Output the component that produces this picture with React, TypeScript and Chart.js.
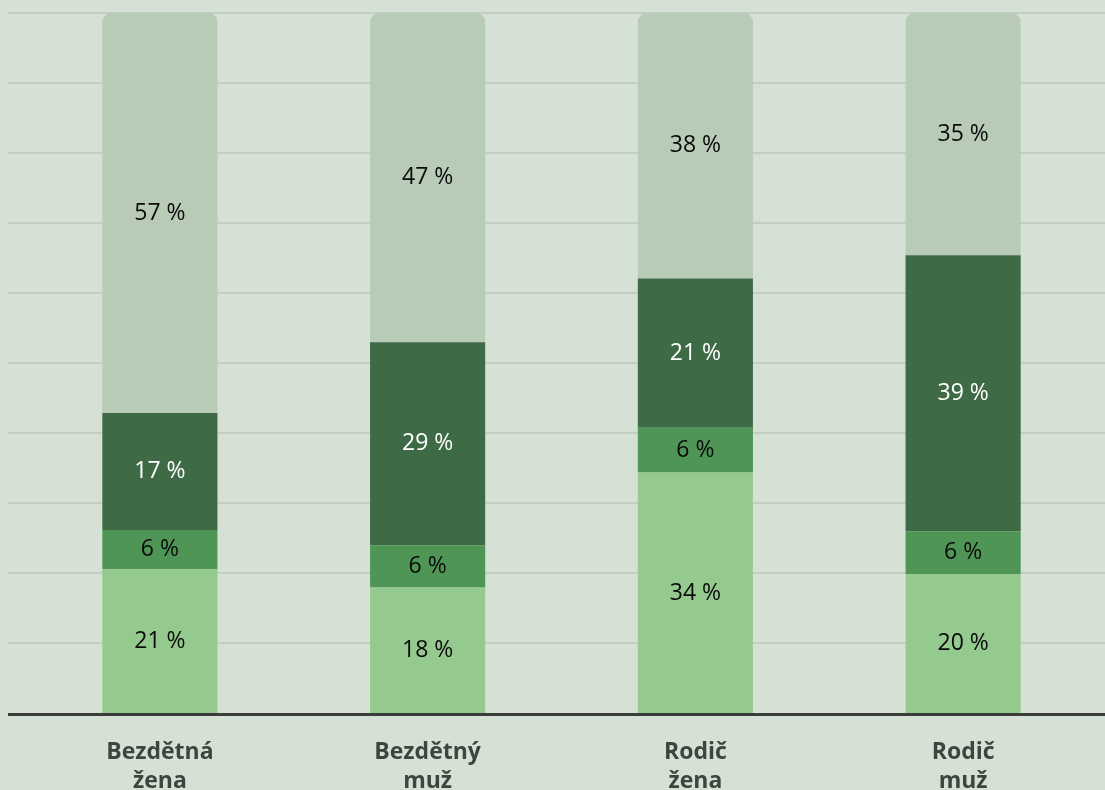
import React, { useEffect, useRef } from "react";
import { Chart, registerables } from "chart.js";

Chart.register(...registerables);

const categories: string[][] = [
  ["Bezdětná", "žena"],
  ["Bezdětný", "muž"],
  ["Rodič", "žena"],
  ["Rodič", "muž"],
];
const seriesLight = [20.6, 18.0, 34.4, 19.9];
const seriesMid = [5.6, 6.0, 6.4, 6.1];
const seriesDark = [16.7, 29.0, 21.3, 39.4];
const seriesTop = [57.1, 47.0, 37.9, 34.6];
const yTicks = [0, 10, 20, 30, 40, 50, 60, 70, 80, 90, 100];

const BG = "#d6e1d5";
const GRID = "#c3cec2";
const AXIS = "#3a3d3a";
const W = 1105;
const H = 832;
const LINE_START = 8;

const labelPlugin = {
  id: "segLabels",
  afterDatasetsDraw(chart: any) {
    const ctx = chart.ctx;
    ctx.save();
    ctx.font = "23px 'Open Sans'";
    ctx.textAlign = "center";
    ctx.textBaseline = "middle";
    chart.data.datasets.forEach((ds: any, di: number) => {
      const meta = chart.getDatasetMeta(di);
      meta.data.forEach((bar: any, i: number) => {
        const v = ds.data[i];
        const props = bar.getProps(["x", "y", "base"], true);
        const cy = (props.y + props.base) / 2;
        ctx.fillStyle = ds.labelColor;
        ctx.fillText(Math.round(v) + " %", props.x, cy);
      });
    });
    ctx.restore();
  },
};

const fullGridPlugin = {
  id: "fullGrid",
  beforeDatasetsDraw(chart: any) {
    const ctx = chart.ctx;
    const y = chart.scales.y;
    ctx.save();
    yTicks.forEach((v) => {
      if (v === 0) return;
      const py = Math.round(y.getPixelForValue(v));
      ctx.strokeStyle = GRID;
      ctx.lineWidth = 2;
      ctx.beginPath();
      ctx.moveTo(LINE_START, py);
      ctx.lineTo(chart.width, py);
      ctx.stroke();
    });
    ctx.restore();
  },
  afterDatasetsDraw(chart: any) {
    const ctx = chart.ctx;
    const y = chart.scales.y;
    const py = Math.round(y.getPixelForValue(0)) + 0.5;
    ctx.save();
    ctx.strokeStyle = AXIS;
    ctx.lineWidth = 3;
    ctx.beginPath();
    ctx.moveTo(LINE_START, py);
    ctx.lineTo(chart.width, py);
    ctx.stroke();
    ctx.restore();
  },
};

export default function App() {
  const ref = useRef<HTMLCanvasElement>(null);
  useEffect(() => {
    document.body.style.background = BG;
    document.documentElement.style.background = BG;
    document.documentElement.style.overflow = "hidden";
    document.body.style.overflow = "hidden";
    Chart.defaults.font.family = "'Open Sans'";
    const chart = new Chart(ref.current as HTMLCanvasElement, {
      type: "bar",
      data: {
        labels: categories,
        datasets: [
          { data: seriesLight, backgroundColor: "#95ca8f", labelColor: "#0a0a0a" } as any,
          { data: seriesMid, backgroundColor: "#4f9656", labelColor: "#0a0a0a" } as any,
          { data: seriesDark, backgroundColor: "#3f6a46", labelColor: "#ffffff" } as any,
          {
            data: seriesTop,
            backgroundColor: "#b8cbb7",
            labelColor: "#0a0a0a",
            borderRadius: { topLeft: 9, topRight: 9, bottomLeft: 0, bottomRight: 0 },
            borderSkipped: false,
          } as any,
        ],
      },
      options: {
        animation: false,
        responsive: false,
        maintainAspectRatio: false,
        layout: { padding: { top: 13, bottom: 19, left: 26, right: 8 } },
        plugins: { legend: { display: false }, tooltip: { enabled: false } },
        datasets: { bar: { categoryPercentage: 1, barPercentage: 0.43 } },
        scales: {
          x: {
            stacked: true,
            grid: { display: false },
            border: { display: false },
            ticks: {
              color: "#3f443f",
              padding: 17,
              font: { size: 23, weight: "bold", family: "'Open Sans'", lineHeight: 1.25 },
            },
          },
          y: {
            stacked: true,
            display: false,
            min: 0,
            max: 100,
          },
        },
      } as any,
      plugins: [fullGridPlugin, labelPlugin],
    });
    return () => chart.destroy();
  }, []);
  return (
    <div style={{ position: "fixed", left: 0, top: 0, width: W, height: H, background: BG }}>
      <canvas ref={ref} width={W} height={H} style={{ display: "block", width: W, height: H }} />
    </div>
  );
}
